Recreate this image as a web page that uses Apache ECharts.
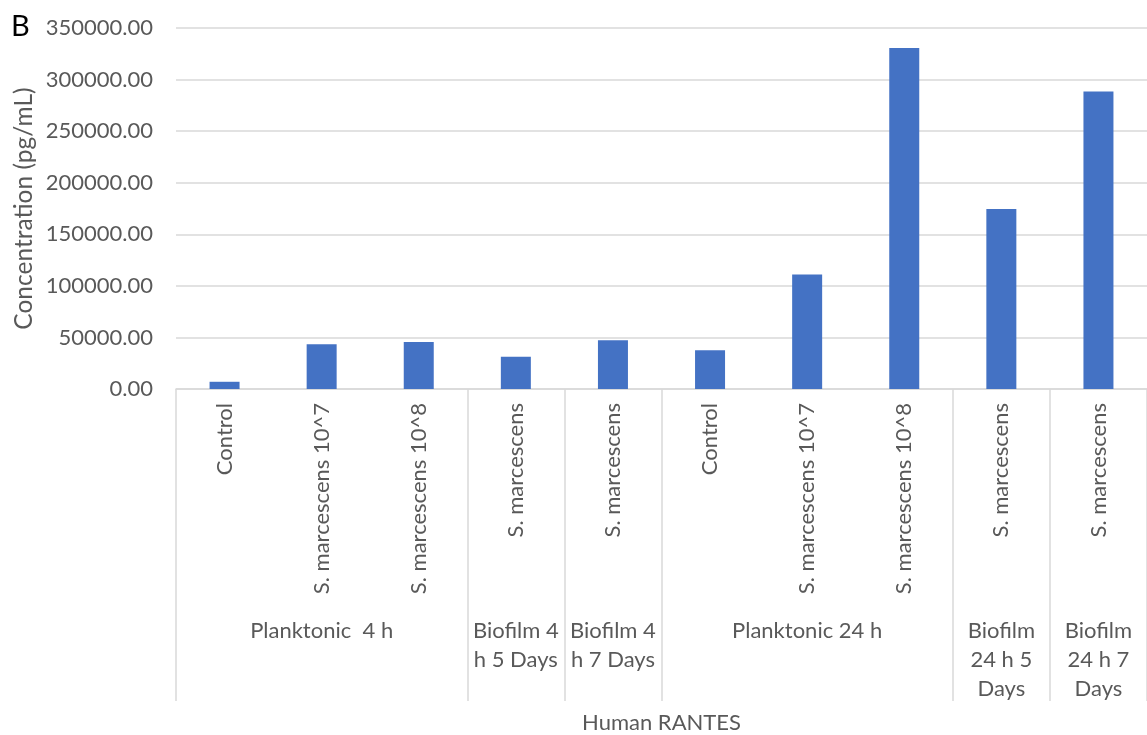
<!DOCTYPE html>
<html>
<head>
<meta charset="utf-8">
<script src="https://cdn.jsdelivr.net/npm/echarts@6/dist/echarts.min.js"></script>
<style>
html,body{margin:0;padding:0;background:#fff;}
#chart{width:1147px;height:735px;}
</style>
</head>
<body>
<div id="chart"></div>
<script>
// ---- data ----
const categories = [
  'Control', 'S. marcescens 10^7', 'S. marcescens 10^8',
  'S. marcescens', 'S. marcescens',
  'Control', 'S. marcescens 10^7', 'S. marcescens 10^8',
  'S. marcescens', 'S. marcescens'
];
const values = [7000, 43300, 45500, 31300, 47200, 37500, 111000, 330700, 174500, 288400];
const groups = ['Planktonic  4 h', 'Biofilm 4\nh 5 Days', 'Biofilm 4\nh 7 Days', 'Planktonic 24 h', 'Biofilm\n24 h 5\nDays', 'Biofilm\n24 h 7\nDays'];
const groupSpans = [3, 1, 1, 3, 1, 1];
const yTicks = [0, 50000, 100000, 150000, 200000, 250000, 300000, 350000];
const yTitle = 'Concentration (pg/mL)';
const xTitle = 'Human RANTES';
const panelLabel = 'B';

// ---- build group axis ----
const groupAxisData = new Array(categories.length).fill('');
const boundaries = new Set();
let start = 0;
groups.forEach((g, i) => {
  const span = groupSpans[i];
  boundaries.add(start);
  groupAxisData[start + Math.floor(span / 2)] = g;
  start += span;
});

const FONT = 'Lato';
const TXT = '#595959';
const GRID = '#D9D9D9';

const chart = echarts.init(document.getElementById('chart'));
chart.setOption({
  animation: false,
  textStyle: { fontFamily: FONT },
  title: {
    text: panelLabel, left: 6, top: 7,
    textStyle: { fontFamily: FONT, fontSize: 29, fontWeight: 'normal', color: '#000' }
  },
  grid: { left: 176, right: 0, top: 28, bottom: 346, containLabel: false, outerBoundsMode: 'none' },
  xAxis: [
    {
      type: 'category',
      data: categories,
      axisLine: { show: true, lineStyle: { color: GRID, width: 1.5 } },
      axisTick: { show: false },
      axisLabel: { interval: 0, rotate: 90, margin: 14, fontSize: 22, color: TXT, fontFamily: FONT }
    },
    {
      type: 'category',
      data: groupAxisData,
      position: 'bottom',
      axisLine: { show: false },
      axisTick: {
        show: true, length: 312,
        interval: (idx) => boundaries.has(idx),
        lineStyle: { color: GRID, width: 1.5 }
      },
      axisLabel: { interval: 0, margin: 227, fontSize: 22, lineHeight: 29, color: TXT, fontFamily: FONT, align: 'center' },
      name: xTitle,
      nameLocation: 'middle',
      nameGap: 323,
      nameMoveOverlap: false,
      nameTextStyle: { fontSize: 22, color: TXT, fontFamily: FONT }
    }
  ],
  yAxis: {
    type: 'value',
    min: yTicks[0],
    max: yTicks[yTicks.length - 1],
    interval: yTicks[1] - yTicks[0],
    axisLine: { show: false },
    axisTick: { show: false },
    splitLine: { lineStyle: { color: GRID, width: 1.5 } },
    axisLabel: { margin: 23, fontSize: 22, color: TXT, fontFamily: FONT, formatter: v => v.toFixed(2) },
    name: yTitle,
    nameLocation: 'middle',
    nameGap: 139,
    nameMoveOverlap: false,
    nameTextStyle: { fontSize: 24.5, color: TXT, fontFamily: FONT }
  },
  series: [{
    type: 'bar',
    xAxisIndex: 0,
    data: values,
    barWidth: 30,
    itemStyle: { color: '#4472C4' }
  }]
});
</script>
</body>
</html>
